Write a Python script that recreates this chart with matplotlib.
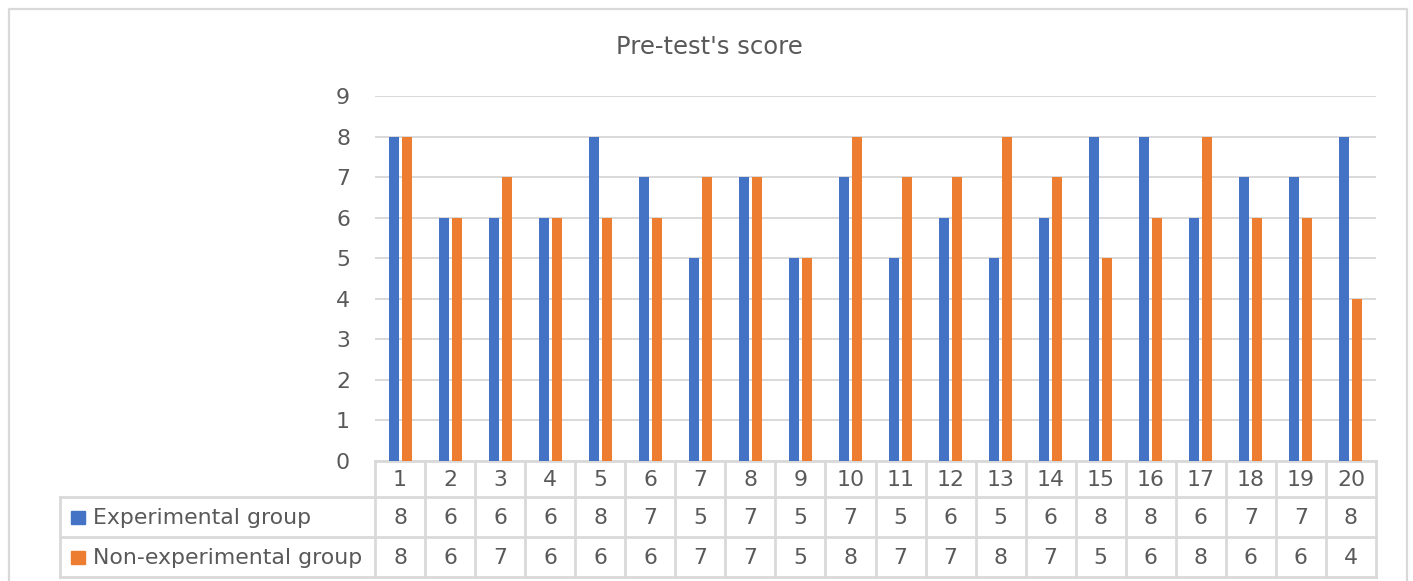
"""
Pre-test's score: bar chart with an Excel-style data table under it.
"""

import matplotlib
matplotlib.use("Agg")
import matplotlib.pyplot as plt
import matplotlib.transforms as mtransforms
import numpy as np

plt.rcParams['font.family'] = ['DejaVu Sans']

# * Data
students = [str(i) for i in range(1, 21)]
experimental = [8, 6, 6, 6, 8, 7, 5, 7, 5, 7, 5, 6, 5, 6, 8, 8, 6, 7, 7, 8]
non_experimental = [8, 6, 7, 6, 6, 6, 7, 7, 5, 8, 7, 7, 8, 7, 5, 6, 8, 6, 6, 4]
series_names = ['Experimental group', 'Non-experimental group']
y_ticks = list(range(0, 10))
title = "Pre-test's score"

BLUE = '#4472C4'
ORANGE = '#ED7D31'
GRID = '#D9D9D9'
TEXT = '#595959'
FS = 15.8

W, H = 1413, 581
fig = plt.figure(figsize=(W / 100, H / 100), dpi=100)

# * Overlay axes in pixel coordinates for the frame and the table
over = fig.add_axes([0, 0, 1, 1])
over.set_xlim(0, W)
over.set_ylim(H, 0)
over.axis('off')

# * Bar axes
left, right, top, bottom = 375, 1376, 96, 461
ax = fig.add_axes([left / W, (H - bottom) / H, (right - left) / W, (bottom - top) / H])
x = np.arange(1, len(students) + 1)
ax.bar(x - 0.13, experimental, width=0.2, color=BLUE, zorder=3)
ax.bar(x + 0.13, non_experimental, width=0.2, color=ORANGE, zorder=3)
ax.set_xlim(0.5, len(students) + 0.5)
ax.set_ylim(0, 9)
ax.set_yticks(y_ticks)
ax.set_yticklabels([str(t) for t in y_ticks], fontsize=FS, color=TEXT)
ax.tick_params(axis='y', length=0, pad=18)
ax.set_xticks([])
ax.grid(axis='y', color=GRID, linewidth=1.4, zorder=0)
for s in ax.spines.values():
    s.set_visible(False)
ax.patch.set_alpha(0)

# * Chart frame
over.plot([9, 9, 1407, 1407], [H + 5, 9, 9, H + 5], color=GRID, lw=1.6, zorder=1)

# * Title
over.text(709, 47, title, fontsize=17.5, color=TEXT, ha='center', va='center')

# * Data table (x in bar-axes data units, y in pixels)
trans = mtransforms.blended_transform_factory(ax.transData, over.transData)
row_y = [461, 497, 537, 577]
label_left = 60
edges = np.arange(0.5, len(students) + 1.0, 1.0)
lc = dict(color=GRID, lw=2, solid_capstyle='projecting')

# horizontal lines
over.plot([edges[0], edges[-1]], [row_y[0], row_y[0]], transform=trans, **lc)
for yy in row_y[1:]:
    over.plot([label_left, right], [yy, yy], **lc)
# vertical lines
for e in edges:
    over.plot([e, e], [row_y[0], row_y[-1]], transform=trans, **lc)
over.plot([label_left, label_left], [row_y[1], row_y[-1]], **lc)

for i, s in enumerate(students):
    xc = x[i]
    over.text(xc, (row_y[0] + row_y[1]) / 2 + 1, s, transform=trans, fontsize=FS,
              color=TEXT, ha='center', va='center')
    over.text(xc, (row_y[1] + row_y[2]) / 2 + 1, str(experimental[i]), transform=trans,
              fontsize=FS, color=TEXT, ha='center', va='center')
    over.text(xc, (row_y[2] + row_y[3]) / 2 + 1, str(non_experimental[i]), transform=trans,
              fontsize=FS, color=TEXT, ha='center', va='center')

for k, (name, col) in enumerate(zip(series_names, [BLUE, ORANGE])):
    yc = (row_y[k + 1] + row_y[k + 2]) / 2
    over.add_patch(plt.Rectangle((71, yc - 6), 14, 13, color=col))
    over.text(93, yc + 1, name, fontsize=FS, color=TEXT, ha='left', va='center')

fig.savefig('out.png', dpi=100)
